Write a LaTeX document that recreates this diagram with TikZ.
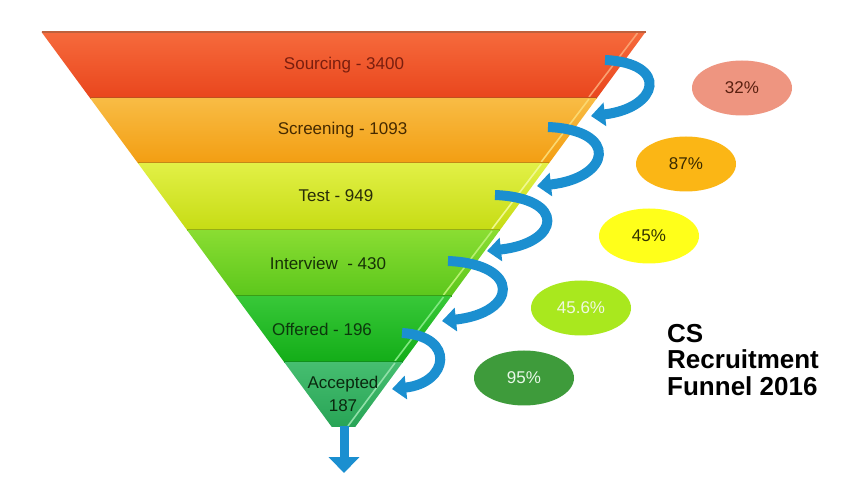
\documentclass[tikz,border=0pt]{standalone}
\usepackage{fontspec}
\setmainfont{Liberation Sans}
\usetikzlibrary{arrows.meta,positioning,shapes.geometric}

\definecolor{arrowblue}{HTML}{1B8FD0}
\definecolor{srcTop}{HTML}{F66A3C}\definecolor{srcBot}{HTML}{E9461D}
\definecolor{scrTop}{HTML}{F8BC45}\definecolor{scrBot}{HTML}{F39E12}
\definecolor{tstTop}{HTML}{E2F046}\definecolor{tstBot}{HTML}{C6DC14}
\definecolor{intTop}{HTML}{8ADD32}\definecolor{intBot}{HTML}{5CC71C}
\definecolor{offTop}{HTML}{38C838}\definecolor{offBot}{HTML}{13AD18}
\definecolor{accTop}{HTML}{46BE70}\definecolor{accBot}{HTML}{28A456}

\begin{document}
\begin{tikzpicture}[x=1pt, y=-1pt,
    lbl/.style={font=\fontsize{17}{23}\selectfont, align=center, inner sep=0pt},
    rate/.style={ellipse, minimum width=100pt, minimum height=55pt, inner sep=0pt,
      font=\fontsize{17}{19}\selectfont},
    curl/.style={arrowblue, line width=10pt, -{Triangle[width=23pt,length=14pt]}},
    edge/.style={line width=1.2pt},
    bevel/.style={line width=1.6pt}]

    % canvas
    \fill[white] (0,0) rectangle (844,486);
    \useasboundingbox (0,0) rectangle (844,486);

    % funnel layers
    \shade[top color=srcTop, bottom color=srcBot] (41.5,32) -- (645.5,32) -- (597,98) -- (90,98) -- cycle;
    \draw[bevel, color={rgb,255:red,250;green,160;blue,112}] (637.5,33) -- (589,97);
    \draw[edge, color={rgb,255:red,190;green,96;blue,60}] (41.5,32) -- (645.5,32);
    \draw[edge, color={rgb,255:red,184;green,64;blue,26}] (90,98) -- (597,98);

    \shade[top color=scrTop, bottom color=scrBot] (90,98) -- (597,98) -- (549.2,163) -- (137.8,163) -- cycle;
    \draw[bevel, color={rgb,255:red,251;green,216;blue,112}] (589,99) -- (541.2,162);
    \draw[edge, color={rgb,255:red,192;green,122;blue,16}] (137.8,163) -- (549.2,163);

    \shade[top color=tstTop, bottom color=tstBot] (137.8,163) -- (549.2,163) -- (500,230) -- (187,230) -- cycle;
    \draw[bevel, color={rgb,255:red,240;green,248;blue,144}] (541.2,164) -- (492,229);
    \draw[edge, color={rgb,255:red,152;green,168;blue,16}] (187,230) -- (500,230);

    \shade[top color=intTop, bottom color=intBot] (187,230) -- (500,230) -- (451.5,296) -- (235.5,296) -- cycle;
    \draw[bevel, color={rgb,255:red,184;green,240;blue,112}] (492,231) -- (443.5,295);
    \draw[edge, color={rgb,255:red,58;green,154;blue,16}] (235.5,296) -- (451.5,296);

    \shade[top color=offTop, bottom color=offBot] (235.5,296) -- (451.5,296) -- (402.9,362) -- (284.1,362) -- cycle;
    \draw[bevel, color={rgb,255:red,128;green,232;blue,128}] (443.5,297) -- (394.9,361);
    \draw[edge, color={rgb,255:red,10;green,138;blue,16}] (284.1,362) -- (402.9,362);

    \shade[top color=accTop, bottom color=accBot] (284.1,362) -- (402.9,362) -- (355.2,427) -- (331.8,427) -- cycle;
    \draw[bevel, color={rgb,255:red,144;green,224;blue,168}] (394.9,363) -- (348,426);

    % layer labels
    \node[lbl, text={rgb,255:red,122;green,30;blue,14}] (sourcing) at (344,65) {Sourcing - 3400};
    \node[lbl, text={rgb,255:red,70;green,42;blue,0}] (screening) at (342.5,130) {Screening - 1093};
    \node[lbl, text={rgb,255:red,40;green,44;blue,8}] (test) at (336,196) {Test - 949};
    \node[lbl, text={rgb,255:red,22;green,50;blue,6}] (interview) at (328,263) {Interview \ - 430};
    \node[lbl, text={rgb,255:red,12;green,56;blue,12}] (offered) at (322,329) {Offered - 196};
    \node[lbl, text={rgb,255:red,10;green,40;blue,14}] (accepted) at (343,394) {Accepted\\187};

    % curling arrows between the layers
    \coordinate (s1) at (605,60);  \coordinate (e1) at (591,116);
    \coordinate (s2) at (548,127); \coordinate (e2) at (537,186);
    \coordinate (s3) at (495,195); \coordinate (e3) at (487,251);
    \coordinate (s4) at (448,261); \coordinate (e4) at (442,321);
    \coordinate (s5) at (402,333); \coordinate (e5) at (392,389);
    \draw[curl] (s1) .. controls +(65,3) and +(68,-8) .. (e1);
    \draw[curl] (s2) .. controls +(72,3) and +(74,-8) .. (e2);
    \draw[curl] (s3) .. controls +(72,3) and +(74,-8) .. (e3);
    \draw[curl] (s4) .. controls +(74,3) and +(76,-8) .. (e4);
    \draw[curl] (s5) .. controls +(54,3) and +(57,-6) .. (e5);

    % outlet arrow
    \coordinate (outtop) at (344,426);
    \coordinate (outtip) at (344,473);
    \draw[arrowblue, line width=9pt, -{Triangle[width=30pt,length=16pt]}] (outtop) -- (outtip);

    % conversion rates
    \node[rate, fill={rgb,255:red,238;green,149;blue,128}, text={rgb,255:red,90;green,32;blue,16}] (r1) at (742,88) {32\%};
    \node[rate, fill={rgb,255:red,251;green,182;blue,21}, text={rgb,255:red,58;green,42;blue,0}] (r2) at (686,164) {87\%};
    \node[rate, fill={rgb,255:red,255;green,255;blue,26}, text={rgb,255:red,51;green,51;blue,0}] (r3) at (649,236) {45\%};
    \node[rate, fill={rgb,255:red,169;green,232;blue,30}, text={rgb,255:red,240;green,248;blue,224}] (r4) at (581,308) {45.6\%};
    \node[rate, fill={rgb,255:red,62;green,155;blue,59}, text={rgb,255:red,232;green,248;blue,232}] (r5) at (524,378) {95\%};

    % title
    \node[anchor=north west, align=left, inner sep=0pt, font=\bfseries\fontsize{26}{26.5}\selectfont] (title) at (667,324) {CS\\Recruitment\\Funnel 2016};
\end{tikzpicture}
\end{document}
